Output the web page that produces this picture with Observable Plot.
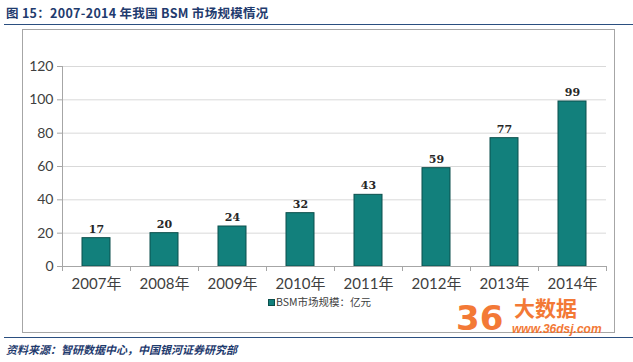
<!DOCTYPE html>
<html><head><meta charset="utf-8">
<script src="https://cdn.jsdelivr.net/npm/d3@7"></script>
<script src="https://cdn.jsdelivr.net/npm/@observablehq/plot@0.6"></script>
<style>
body{margin:0;background:#fff;width:633px;height:362px;position:relative;overflow:hidden;font-family:"Noto Sans CJK SC",sans-serif}
#title{position:absolute;left:6px;top:3px;font-size:12.5px;font-weight:bold;color:#1f3b6e;letter-spacing:0.3px;white-space:nowrap}
#tline{position:absolute;left:4px;right:0;top:24px;border-top:1.5px solid #2b4f80}
#frame{position:absolute;left:22px;top:29px;width:593px;height:304px;border:1px solid #a6a6a6;box-sizing:border-box}
#chart{position:absolute;left:22px;top:30px}
#legend{position:absolute;left:268px;top:294px;font-size:10.5px;color:#404040;white-space:nowrap}
#legend span.sw{display:inline-block;width:7px;height:7px;background:#12807c;border:1px solid #0b4f4c;box-sizing:border-box;margin-right:1px;vertical-align:0px}
#fline{position:absolute;left:4px;right:0;top:337px;border-top:1.5px solid #2b4f80}
#source{position:absolute;left:6px;top:341px;font-size:11px;font-weight:bold;font-style:italic;color:#1f3b6e;white-space:nowrap}
#wm{position:absolute;left:456px;top:299px;color:#f26b21;white-space:nowrap;font-family:"Noto Sans CJK SC",sans-serif;opacity:0.9}
#wm .n{position:absolute;left:0;top:2px;font-size:34px;font-weight:bold;line-height:34px;font-family:"DejaVu Sans",sans-serif}
#wm .d{position:absolute;left:58px;top:-2px;font-size:21px;font-weight:bold;line-height:21px}
#wm .u{position:absolute;left:56px;top:24px;font-size:12px;line-height:12px;font-weight:bold;font-style:italic;font-family:"Liberation Sans",sans-serif}
</style></head>
<body>
<div id="title">图 15：2007-2014 年我国 BSM 市场规模情况</div>
<div id="tline"></div>
<div id="frame"></div>
<div id="chart"></div>
<div id="legend"><span class="sw"></span>BSM市场规模：亿元</div>
<div id="wm"><span class="n">36</span><span class="d">大数据</span><span class="u">www.36dsj.com</span></div>
<div id="fline"></div>
<div id="source">资料来源：智研数据中心，中国银河证券研究部</div>
<script>
const years = ["2007年","2008年","2009年","2010年","2011年","2012年","2013年","2014年"];
const values = [17, 20, 24, 32, 43, 59, 77, 99];
const yTicks = [0, 20, 40, 60, 80, 100, 120];

const data = years.map((y, i) => ({year: y, value: values[i]}));
const W = 593, H = 280, ML = 40, MR = 9, MT = 36, MB = 44;
const step = (W - ML - MR) / years.length;
const font = 'Lato, "Noto Sans CJK SC", sans-serif';

const chart = Plot.plot({
  width: W, height: H,
  marginLeft: ML, marginRight: MR, marginTop: MT, marginBottom: MB,
  style: {background: "transparent", fontFamily: font},
  x: {domain: years, paddingInner: 0.59, paddingOuter: 0.295, align: 0.5},
  y: {domain: [0, 120]},
  marks: [
    Plot.gridY(yTicks, {stroke: "#d9d9d9", strokeOpacity: 1}),
    Plot.axisY(yTicks, {tickSize: 5, tickPadding: 4, fontSize: 14, fill: "#404040", stroke: "#a6a6a6", label: null}),
    Plot.barY(data, {x: "year", y: "value", fill: "#12807c", stroke: "#0b4f4c", strokeWidth: 1}),
    Plot.ruleY([0], {stroke: "#a6a6a6"}),
    Plot.ruleX(years, {x: d => d, y1: 0, y2: 0, insetBottom: -5, dx: -step / 2, stroke: "#a6a6a6"}),
    Plot.ruleX([years[years.length - 1]], {x: d => d, y1: 0, y2: 0, insetBottom: -5, dx: step / 2, stroke: "#a6a6a6"}),
    Plot.ruleX([years[0]], {x: d => d, y1: 0, y2: 120, dx: -step / 2, stroke: "#a6a6a6"}),
    Plot.axisX({tickSize: 0, tickPadding: 12, fontSize: 15, fill: "#404040", label: null}),
    Plot.text(data, {x: "year", y: "value", text: d => String(d.value), dy: -9, fontSize: 11, fontWeight: "bold", fontFamily: '"DejaVu Serif", serif', fill: "#262626"})
  ]
});
document.getElementById("chart").appendChild(chart);
</script>
</body></html>
